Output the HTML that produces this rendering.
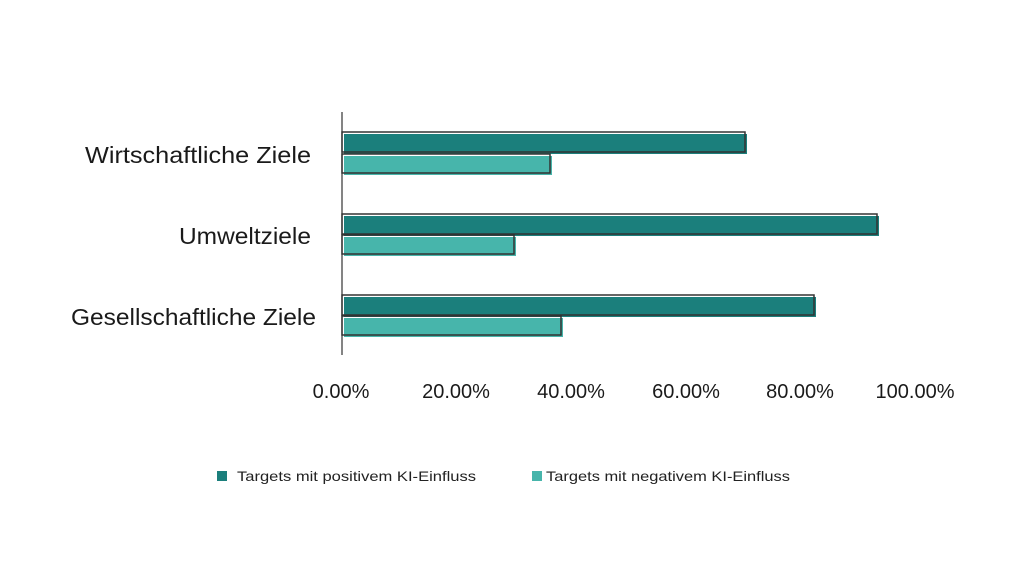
<!DOCTYPE html>
<html><head><meta charset="utf-8"><style>
html,body{margin:0;padding:0;background:#fff;}
svg{display:block;font-family:"Liberation Sans",sans-serif;}
</style></head><body>
<svg width="1020" height="576" viewBox="0 0 1020 576">
<rect width="1020" height="576" fill="#fff"/>
<g font-size="23" fill="#1a1a1a" text-anchor="end">
<text x="311" y="163" textLength="226" lengthAdjust="spacingAndGlyphs">Wirtschaftliche Ziele</text>
<text x="311" y="244" textLength="132" lengthAdjust="spacingAndGlyphs">Umweltziele</text>
<text x="316" y="325" textLength="245" lengthAdjust="spacingAndGlyphs">Gesellschaftliche Ziele</text>
</g>
<g>
<rect x="344" y="134" width="403" height="20" fill="#1b7f7c"/>
<rect x="342" y="132" width="403" height="20" fill="none" stroke="#333" stroke-width="1.5"/>
<rect x="344" y="156" width="208" height="19" fill="#47b5ab"/>
<rect x="342" y="154" width="208" height="19" fill="none" stroke="#333" stroke-width="1.5"/>

<rect x="344" y="216" width="535" height="20" fill="#1b7f7c"/>
<rect x="342" y="214" width="535" height="20" fill="none" stroke="#333" stroke-width="1.5"/>
<rect x="344" y="237" width="172" height="19" fill="#47b5ab"/>
<rect x="342" y="235" width="172" height="19" fill="none" stroke="#333" stroke-width="1.5"/>

<rect x="344" y="297" width="472" height="20" fill="#1b7f7c"/>
<rect x="342" y="295" width="472" height="20" fill="none" stroke="#333" stroke-width="1.5"/>
<rect x="344" y="318" width="219" height="19" fill="#47b5ab"/>
<rect x="342" y="316" width="219" height="19" fill="none" stroke="#333" stroke-width="1.5"/>
</g>
<line x1="342" y1="112" x2="342" y2="355" stroke="#333" stroke-width="1.2"/>
<g font-size="20" fill="#1a1a1a" text-anchor="middle">
<text x="341" y="398">0.00%</text>
<text x="456" y="398">20.00%</text>
<text x="571" y="398">40.00%</text>
<text x="686" y="398">60.00%</text>
<text x="800" y="398">80.00%</text>
<text x="915" y="398">100.00%</text>
</g>
<rect x="217" y="471" width="10" height="10" fill="#1b7f7c"/>
<text x="237" y="481" font-size="14" fill="#222" textLength="239" lengthAdjust="spacingAndGlyphs">Targets mit positivem KI-Einfluss</text>
<rect x="532" y="471" width="10" height="10" fill="#47b5ab"/>
<text x="546" y="481" font-size="14" fill="#222" textLength="244" lengthAdjust="spacingAndGlyphs">Targets mit negativem KI-Einfluss</text>
</svg>
</body></html>
